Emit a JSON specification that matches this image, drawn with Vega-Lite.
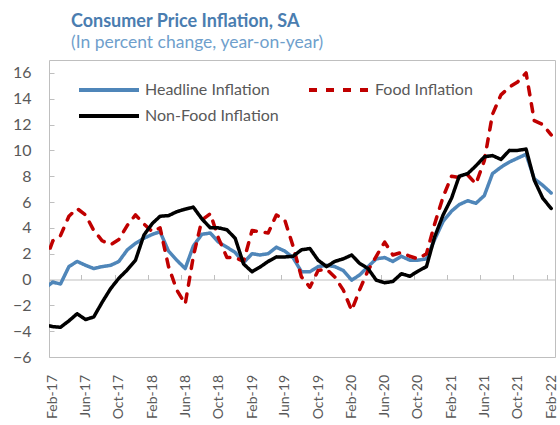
{
  "$schema": "https://vega.github.io/schema/vega-lite/v6.json",
  "width": 506,
  "height": 297,
  "autosize": {"type": "none"},
  "padding": {"left": 49, "top": 60, "right": 5, "bottom": 68},
  "title": {
    "text": "Consumer Price Inflation, SA",
    "subtitle": "(In percent change, year-on-year)",
    "anchor": "start",
    "frame": "group",
    "dx": 22,
    "offset": 9,
    "font": "Lato",
    "fontSize": 18,
    "fontWeight": "bold",
    "color": "#4a7db0",
    "subtitleFont": "Lato",
    "subtitleFontSize": 17.5,
    "subtitleColor": "#6f9fcc",
    "subtitlePadding": 3
  },
  "data": {
    "values": [
      {"date": "2017-01-15", "Headline Inflation": -0.7, "Food Inflation": 1.2, "Non-Food Inflation": -3.5},
      {"date": "2017-02-15", "Headline Inflation": -0.2, "Food Inflation": 3.0, "Non-Food Inflation": -3.65},
      {"date": "2017-03-15", "Headline Inflation": -0.35, "Food Inflation": 3.4, "Non-Food Inflation": -3.7},
      {"date": "2017-04-15", "Headline Inflation": 1.0, "Food Inflation": 4.9, "Non-Food Inflation": -3.2},
      {"date": "2017-05-15", "Headline Inflation": 1.4, "Food Inflation": 5.5, "Non-Food Inflation": -2.65},
      {"date": "2017-06-15", "Headline Inflation": 1.1, "Food Inflation": 5.0, "Non-Food Inflation": -3.1},
      {"date": "2017-07-15", "Headline Inflation": 0.85, "Food Inflation": 3.8, "Non-Food Inflation": -2.9},
      {"date": "2017-08-15", "Headline Inflation": 1.0, "Food Inflation": 3.0, "Non-Food Inflation": -1.75},
      {"date": "2017-09-15", "Headline Inflation": 1.1, "Food Inflation": 2.7, "Non-Food Inflation": -0.7},
      {"date": "2017-10-15", "Headline Inflation": 1.4, "Food Inflation": 3.1, "Non-Food Inflation": 0.1},
      {"date": "2017-11-15", "Headline Inflation": 2.3, "Food Inflation": 4.2, "Non-Food Inflation": 0.75},
      {"date": "2017-12-15", "Headline Inflation": 2.8, "Food Inflation": 5.0, "Non-Food Inflation": 1.5},
      {"date": "2018-01-15", "Headline Inflation": 3.2, "Food Inflation": 4.3, "Non-Food Inflation": 3.45},
      {"date": "2018-02-15", "Headline Inflation": 3.5, "Food Inflation": 3.7, "Non-Food Inflation": 4.35},
      {"date": "2018-03-15", "Headline Inflation": 3.7, "Food Inflation": 4.0, "Non-Food Inflation": 4.9},
      {"date": "2018-04-15", "Headline Inflation": 2.2, "Food Inflation": 1.0, "Non-Food Inflation": 4.95},
      {"date": "2018-05-15", "Headline Inflation": 1.5, "Food Inflation": -0.8, "Non-Food Inflation": 5.25},
      {"date": "2018-06-15", "Headline Inflation": 0.85, "Food Inflation": -1.9, "Non-Food Inflation": 5.45},
      {"date": "2018-07-15", "Headline Inflation": 2.6, "Food Inflation": 1.8, "Non-Food Inflation": 5.6},
      {"date": "2018-08-15", "Headline Inflation": 3.5, "Food Inflation": 4.6, "Non-Food Inflation": 4.7},
      {"date": "2018-09-15", "Headline Inflation": 3.6, "Food Inflation": 5.1, "Non-Food Inflation": 4.0},
      {"date": "2018-10-15", "Headline Inflation": 2.9, "Food Inflation": 3.2, "Non-Food Inflation": 4.0},
      {"date": "2018-11-15", "Headline Inflation": 2.5, "Food Inflation": 1.7, "Non-Food Inflation": 3.85},
      {"date": "2018-12-15", "Headline Inflation": 2.1, "Food Inflation": 1.7, "Non-Food Inflation": 3.2},
      {"date": "2019-01-15", "Headline Inflation": 1.3, "Food Inflation": 1.4, "Non-Food Inflation": 1.2},
      {"date": "2019-02-15", "Headline Inflation": 2.0, "Food Inflation": 3.8, "Non-Food Inflation": 0.6},
      {"date": "2019-03-15", "Headline Inflation": 1.9, "Food Inflation": 3.7, "Non-Food Inflation": 0.95},
      {"date": "2019-04-15", "Headline Inflation": 2.0, "Food Inflation": 3.6, "Non-Food Inflation": 1.4},
      {"date": "2019-05-15", "Headline Inflation": 2.5, "Food Inflation": 5.0, "Non-Food Inflation": 1.75},
      {"date": "2019-06-15", "Headline Inflation": 2.2, "Food Inflation": 4.6, "Non-Food Inflation": 1.75},
      {"date": "2019-07-15", "Headline Inflation": 1.7, "Food Inflation": 2.6, "Non-Food Inflation": 1.8},
      {"date": "2019-08-15", "Headline Inflation": 0.6, "Food Inflation": 0.2, "Non-Food Inflation": 2.3},
      {"date": "2019-09-15", "Headline Inflation": 0.6, "Food Inflation": -0.6, "Non-Food Inflation": 2.4},
      {"date": "2019-10-15", "Headline Inflation": 1.0, "Food Inflation": 0.7, "Non-Food Inflation": 1.5},
      {"date": "2019-11-15", "Headline Inflation": 1.1, "Food Inflation": 0.8, "Non-Food Inflation": 1.0},
      {"date": "2019-12-15", "Headline Inflation": 1.0, "Food Inflation": 0.2, "Non-Food Inflation": 1.4},
      {"date": "2020-01-15", "Headline Inflation": 0.7, "Food Inflation": -0.8, "Non-Food Inflation": 1.6},
      {"date": "2020-02-15", "Headline Inflation": -0.05, "Food Inflation": -2.4, "Non-Food Inflation": 1.9},
      {"date": "2020-03-15", "Headline Inflation": 0.35, "Food Inflation": -0.8, "Non-Food Inflation": 1.25},
      {"date": "2020-04-15", "Headline Inflation": 1.0, "Food Inflation": 0.7, "Non-Food Inflation": 0.85},
      {"date": "2020-05-15", "Headline Inflation": 1.6, "Food Inflation": 1.8, "Non-Food Inflation": -0.05},
      {"date": "2020-06-15", "Headline Inflation": 1.7, "Food Inflation": 2.9, "Non-Food Inflation": -0.25},
      {"date": "2020-07-15", "Headline Inflation": 1.4, "Food Inflation": 1.9, "Non-Food Inflation": -0.15},
      {"date": "2020-08-15", "Headline Inflation": 1.8, "Food Inflation": 2.1, "Non-Food Inflation": 0.45},
      {"date": "2020-09-15", "Headline Inflation": 1.5, "Food Inflation": 1.8, "Non-Food Inflation": 0.25},
      {"date": "2020-10-15", "Headline Inflation": 1.5, "Food Inflation": 1.6, "Non-Food Inflation": 0.65},
      {"date": "2020-11-15", "Headline Inflation": 1.6, "Food Inflation": 2.0, "Non-Food Inflation": 1.0},
      {"date": "2020-12-15", "Headline Inflation": 3.1, "Food Inflation": 4.3, "Non-Food Inflation": 3.3},
      {"date": "2021-01-15", "Headline Inflation": 4.5, "Food Inflation": 6.4, "Non-Food Inflation": 5.0},
      {"date": "2021-02-15", "Headline Inflation": 5.3, "Food Inflation": 8.0, "Non-Food Inflation": 6.3},
      {"date": "2021-03-15", "Headline Inflation": 5.8, "Food Inflation": 7.9, "Non-Food Inflation": 8.0},
      {"date": "2021-04-15", "Headline Inflation": 6.1, "Food Inflation": 8.1, "Non-Food Inflation": 8.2},
      {"date": "2021-05-15", "Headline Inflation": 5.9, "Food Inflation": 7.4, "Non-Food Inflation": 8.8},
      {"date": "2021-06-15", "Headline Inflation": 6.5, "Food Inflation": 9.2, "Non-Food Inflation": 9.5},
      {"date": "2021-07-15", "Headline Inflation": 8.2, "Food Inflation": 12.8, "Non-Food Inflation": 9.6},
      {"date": "2021-08-15", "Headline Inflation": 8.7, "Food Inflation": 14.3, "Non-Food Inflation": 9.3},
      {"date": "2021-09-15", "Headline Inflation": 9.1, "Food Inflation": 14.9, "Non-Food Inflation": 10.0},
      {"date": "2021-10-15", "Headline Inflation": 9.4, "Food Inflation": 15.3, "Non-Food Inflation": 10.0},
      {"date": "2021-11-15", "Headline Inflation": 9.7, "Food Inflation": 16.0, "Non-Food Inflation": 10.1},
      {"date": "2021-12-15", "Headline Inflation": 7.8, "Food Inflation": 12.3, "Non-Food Inflation": 7.7},
      {"date": "2022-01-15", "Headline Inflation": 7.3, "Food Inflation": 12.0, "Non-Food Inflation": 6.3},
      {"date": "2022-02-15", "Headline Inflation": 6.7, "Food Inflation": 11.2, "Non-Food Inflation": 5.5}
    ]
  },
  "transform": [
    {"fold": ["Headline Inflation", "Food Inflation", "Non-Food Inflation"], "as": ["series", "value"]}
  ],
  "mark": {"type": "line", "strokeWidth": 3.5, "strokeCap": "round", "strokeJoin": "round", "clip": true},
  "encoding": {
    "x": {
      "field": "date",
      "type": "temporal",
      "scale": {"type": "utc", "domain": [{"year": 2017, "month": 2, "date": 1, "utc": true}, {"year": 2022, "month": 3, "date": 1, "utc": true}], "nice": false},
      "axis": {
        "title": null,
        "values": [
          {"year": 2017, "month": 2, "date": 15, "utc": true},
          {"year": 2017, "month": 6, "date": 15, "utc": true},
          {"year": 2017, "month": 10, "date": 15, "utc": true},
          {"year": 2018, "month": 2, "date": 15, "utc": true},
          {"year": 2018, "month": 6, "date": 15, "utc": true},
          {"year": 2018, "month": 10, "date": 15, "utc": true},
          {"year": 2019, "month": 2, "date": 15, "utc": true},
          {"year": 2019, "month": 6, "date": 15, "utc": true},
          {"year": 2019, "month": 10, "date": 15, "utc": true},
          {"year": 2020, "month": 2, "date": 15, "utc": true},
          {"year": 2020, "month": 6, "date": 15, "utc": true},
          {"year": 2020, "month": 10, "date": 15, "utc": true},
          {"year": 2021, "month": 2, "date": 15, "utc": true},
          {"year": 2021, "month": 6, "date": 15, "utc": true},
          {"year": 2021, "month": 10, "date": 15, "utc": true},
          {"year": 2022, "month": 2, "date": 15, "utc": true}
        ],
        "format": "%b-%y",
        "labelAngle": -90,
        "offset": -77.5,
        "domain": true,
        "domainColor": "#bfbfbf",
        "ticks": true,
        "tickSize": -5,
        "tickColor": "#bfbfbf",
        "tickOffset": -4.15,
        "labelOffset": 4.15,
        "labelPadding": 100,
        "labelFont": "Lato",
        "labelFontSize": 14,
        "labelColor": "#595959",
        "labelOverlap": false,
        "labelBound": false,
        "labelFlush": false,
        "grid": false
      }
    },
    "y": {
      "field": "value",
      "type": "quantitative",
      "scale": {"domain": [-6, 17], "nice": false, "zero": false},
      "axis": {
        "title": null,
        "values": [-6, -4, -2, 0, 2, 4, 6, 8, 10, 12, 14, 16],
        "domain": false,
        "ticks": true,
        "tickSize": -5,
        "tickColor": "#bfbfbf",
        "labelPadding": 23,
        "labelFont": "Lato",
        "labelFontSize": 16,
        "labelColor": "#595959",
        "labelOverlap": false,
        "labelFlush": false,
        "grid": false
      }
    },
    "color": {
      "field": "series",
      "type": "nominal",
      "scale": {"domain": ["Headline Inflation", "Food Inflation", "Non-Food Inflation"], "range": ["#4f86b9", "#c00000", "#000000"]},
      "legend": {
        "title": null,
        "orient": "none",
        "legendX": 28,
        "legendY": 22,
        "direction": "horizontal",
        "columns": 2,
        "columnPadding": 28,
        "rowPadding": 10,
        "padding": 0,
        "clipHeight": 16,
        "symbolType": "stroke",
        "symbolSize": 3600,
        "symbolStrokeWidth": 4,
        "labelOffset": 4,
        "labelFont": "Lato",
        "labelFontSize": 16,
        "labelColor": "#595959",
        "labelLimit": 400
      }
    },
    "strokeDash": {
      "field": "series",
      "type": "nominal",
      "scale": {"domain": ["Headline Inflation", "Food Inflation", "Non-Food Inflation"], "range": [[1, 0], [8, 9], [1, 0]]}
    }
  },
  "config": {
    "view": {"stroke": "#bfbfbf", "strokeWidth": 1},
    "font": "Lato"
  }
}
